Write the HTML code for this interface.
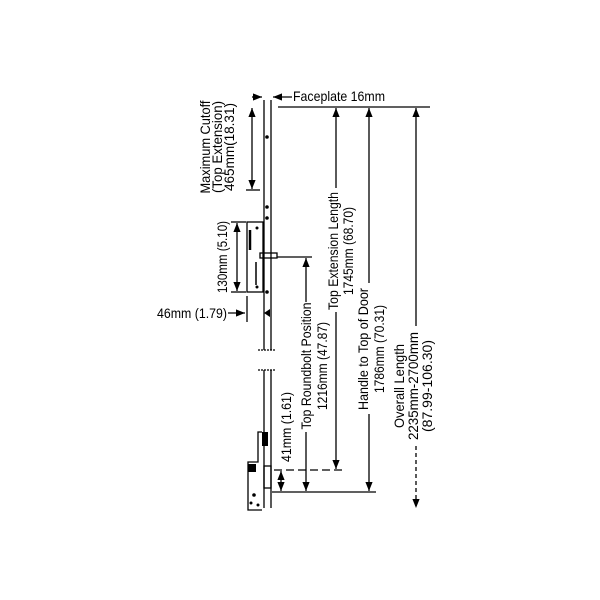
<!DOCTYPE html>
<html><head><style>body{margin:0;background:#fff}svg{display:block}text{font-family:"Liberation Sans",sans-serif;font-size:14px;fill:#000}</style></head><body>
<svg width="600" height="600" viewBox="0 0 600 600" xmlns="http://www.w3.org/2000/svg">
<defs>
<marker id="a" viewBox="0 0 10 10" refX="10" refY="5" markerWidth="7" markerHeight="7" orient="auto-start-reverse"><path d="M0,1 L10,5 L0,9z" fill="#000"/></marker>
</defs>
<g stroke="#000" fill="none" stroke-width="1.3">
<line x1="264" y1="100" x2="264" y2="350"/><line x1="271" y1="100" x2="271" y2="350"/>
<line x1="258" y1="350" x2="276" y2="350" stroke-dasharray="2,1"/>
<line x1="264" y1="370" x2="264" y2="508"/><line x1="271" y1="370" x2="271" y2="508"/>
<line x1="258" y1="370" x2="276" y2="370" stroke-dasharray="2,1"/>
<rect x="247" y="222" width="16" height="70"/>
<rect x="260" y="253" width="17" height="5"/>
<line x1="250" y1="230" x2="250" y2="250" stroke-width="2.5"/>
<line x1="256" y1="262" x2="256" y2="285" stroke-width="1.5"/>
<path d="M262 432 h-4 v30 h-10 v48 h14"/>
<rect x="264" y="466" width="7" height="22"/>
<line x1="252" y1="97" x2="262" y2="97" marker-end="url(#a)"/>
<line x1="292" y1="97" x2="273" y2="97" marker-end="url(#a)"/>
<line x1="278" y1="107" x2="430" y2="107"/>
<line x1="252" y1="108" x2="252" y2="189" marker-start="url(#a)" marker-end="url(#a)"/>
<line x1="246" y1="190" x2="260" y2="190"/>
<line x1="237" y1="223" x2="237" y2="291" marker-start="url(#a)" marker-end="url(#a)"/>
<line x1="231" y1="222" x2="246" y2="222"/><line x1="231" y1="292" x2="246" y2="292"/>
<line x1="228" y1="313" x2="245" y2="313" marker-end="url(#a)"/>
<line x1="247" y1="296" x2="247" y2="322"/>
<line x1="277" y1="257" x2="312" y2="257"/>
<line x1="306" y1="258" x2="306" y2="302" marker-start="url(#a)"/>
<line x1="306" y1="432" x2="306" y2="491" marker-end="url(#a)"/>
<line x1="336" y1="108" x2="336" y2="188" marker-start="url(#a)"/>
<line x1="336" y1="312" x2="336" y2="469" marker-end="url(#a)"/>
<line x1="274" y1="470" x2="346" y2="470" stroke-dasharray="8,4"/>
<line x1="369" y1="108" x2="369" y2="283" marker-start="url(#a)"/>
<line x1="369" y1="414" x2="369" y2="491" marker-end="url(#a)"/>
<line x1="272" y1="492" x2="376" y2="492"/>
<line x1="416" y1="108" x2="416" y2="326" marker-start="url(#a)"/>
<line x1="416" y1="446" x2="416" y2="508" stroke-dasharray="4,3" marker-end="url(#a)"/>
<line x1="281" y1="471" x2="281" y2="491" marker-start="url(#a)" marker-end="url(#a)"/>
</g>
<g fill="#000">
<circle cx="267" cy="137" r="1.8"/><circle cx="267" cy="207" r="1.8"/><circle cx="267" cy="218" r="1.8"/><circle cx="267" cy="292" r="1.8"/><circle cx="257" cy="228" r="1.5"/><circle cx="257" cy="287" r="1.5"/>
<path d="M264 313 l6 -4 v8z"/>
<circle cx="254" cy="495" r="1.8"/><circle cx="251" cy="503" r="1.5"/><circle cx="258" cy="505" r="1.5"/>
<rect x="262" y="432" width="6" height="14"/>
<rect x="248" y="464" width="8" height="8"/>
</g>
<text x="293" y="101" textLength="92" lengthAdjust="spacingAndGlyphs">Faceplate 16mm</text>
<g text-anchor="middle">
<g transform="translate(0,147) rotate(-90)"><text x="0" y="210" textLength="93" lengthAdjust="spacingAndGlyphs">Maximum Cutoff</text><text x="0" y="222" textLength="92" lengthAdjust="spacingAndGlyphs">(Top Extension)</text><text x="0" y="234" textLength="88" lengthAdjust="spacingAndGlyphs">465mm(18.31)</text></g>
<g transform="translate(0,257) rotate(-90)"><text x="0" y="227" textLength="72" lengthAdjust="spacingAndGlyphs">130mm (5.10)</text></g>
<g transform="translate(0,366) rotate(-90)"><text x="0" y="311" textLength="127" lengthAdjust="spacingAndGlyphs">Top Roundbolt Position</text><text x="0" y="327" textLength="88" lengthAdjust="spacingAndGlyphs">1216mm (47.87)</text></g>
<g transform="translate(0,251) rotate(-90)"><text x="0" y="338" textLength="118" lengthAdjust="spacingAndGlyphs">Top Extension Length</text><text x="0" y="353" textLength="88" lengthAdjust="spacingAndGlyphs">1745mm (68.70)</text></g>
<g transform="translate(0,349) rotate(-90)"><text x="0" y="368" textLength="122" lengthAdjust="spacingAndGlyphs">Handle to Top of Door</text><text x="0" y="384" textLength="88" lengthAdjust="spacingAndGlyphs">1786mm (70.31)</text></g>
<g transform="translate(0,386) rotate(-90)"><text x="0" y="404" textLength="84" lengthAdjust="spacingAndGlyphs">Overall Length</text><text x="0" y="418" textLength="108" lengthAdjust="spacingAndGlyphs">2235mm-2700mm</text><text x="0" y="432" textLength="92" lengthAdjust="spacingAndGlyphs">(87.99-106.30)</text></g>
<g transform="translate(0,427) rotate(-90)"><text x="0" y="291" textLength="70" lengthAdjust="spacingAndGlyphs">41mm (1.61)</text></g>
</g>
<text x="157" y="318" textLength="70" lengthAdjust="spacingAndGlyphs">46mm (1.79)</text>
</svg>
</body></html>
